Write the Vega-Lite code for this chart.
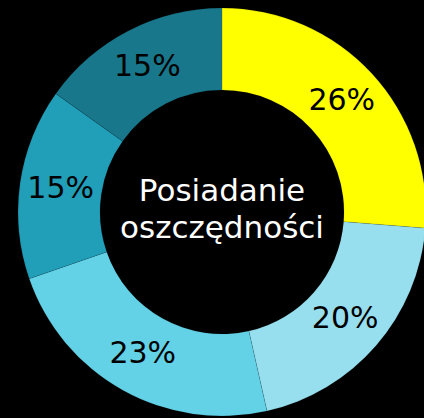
{
  "$schema": "https://vega.github.io/schema/vega-lite/v6.json",
  "width": 424,
  "height": 418,
  "autosize": {"type": "fit", "contains": "padding"},
  "padding": {"left": 20, "top": 6, "right": 0, "bottom": 0},
  "background": "#000000",
  "view": {"stroke": null},
  "data": {
    "values": [
      {"kategoria": "k1", "procent": 26, "etykieta": "26%", "kolejnosc": 1},
      {"kategoria": "k2", "procent": 20, "etykieta": "20%", "kolejnosc": 2},
      {"kategoria": "k3", "procent": 23, "etykieta": "23%", "kolejnosc": 3},
      {"kategoria": "k4", "procent": 15, "etykieta": "15%", "kolejnosc": 4},
      {"kategoria": "k5", "procent": 15, "etykieta": "15%", "kolejnosc": 5}
    ]
  },
  "layer": [
    {
      "mark": {"type": "arc", "radius": 204, "radius2": 122, "stroke": "#000000", "strokeOpacity": 0.2, "strokeWidth": 0.5},
      "encoding": {
        "theta": {"field": "procent", "type": "quantitative", "stack": true},
        "order": {"field": "kolejnosc", "type": "quantitative"},
        "color": {
          "field": "kategoria",
          "type": "nominal",
          "scale": {"domain": ["k1", "k2", "k3", "k4", "k5"], "range": ["#ffff00", "#97dfee", "#63d1e6", "#219eb8", "#18778b"]},
          "legend": null
        }
      }
    },
    {
      "mark": {"type": "text", "radius": 163, "fontSize": 30, "font": "DejaVu Sans", "fill": "#000000", "align": "center", "baseline": "middle"},
      "encoding": {
        "theta": {"field": "procent", "type": "quantitative", "stack": true},
        "order": {"field": "kolejnosc", "type": "quantitative"},
        "text": {"field": "etykieta", "type": "nominal"}
      }
    },
    {
      "data": {"values": [{"tytul": "Posiadanie\noszczędności"}]},
      "mark": {"type": "text", "lineBreak": "\n", "fontSize": 31, "lineHeight": 37, "dy": -20, "font": "DejaVu Sans", "fill": "#ffffff", "align": "center", "baseline": "middle"},
      "encoding": {"text": {"field": "tytul", "type": "nominal"}}
    }
  ]
}
